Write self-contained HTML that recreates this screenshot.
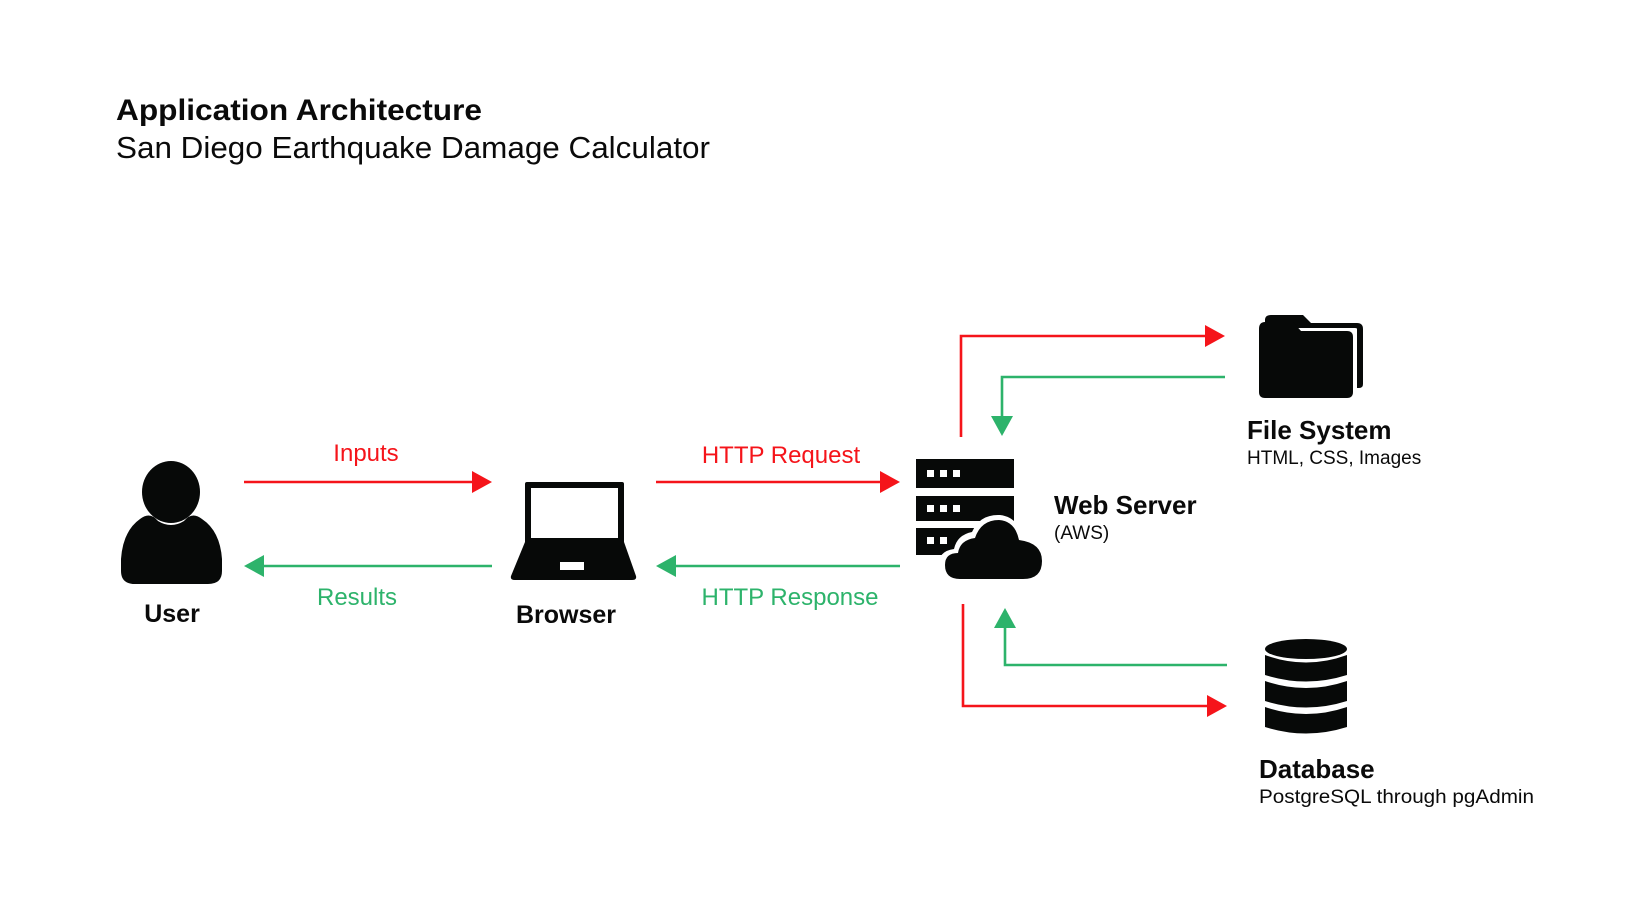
<!DOCTYPE html>
<html><head><meta charset="utf-8"><style>
html,body{margin:0;padding:0;background:#fff;width:1650px;height:900px;overflow:hidden}
svg{display:block}
text{font-family:"Liberation Sans",sans-serif}
</style></head><body>
<svg width="1650" height="900" viewBox="0 0 1650 900" xmlns="http://www.w3.org/2000/svg">
<rect width="1650" height="900" fill="#fff"/>
<text x="116" y="120" font-size="30" font-weight="bold" fill="#0a0a0a" textLength="366" lengthAdjust="spacingAndGlyphs">Application Architecture</text>
<text x="116" y="158" font-size="31" fill="#0a0a0a" textLength="594" lengthAdjust="spacingAndGlyphs">San Diego Earthquake Damage Calculator</text>

<!-- User -->
<ellipse cx="171" cy="492" rx="29" ry="31" fill="#070908"/>
<path d="M140 519 Q150 511 158 521 Q171 529 184 521 Q192 511 202 519 Q220 531 222 559 L222 571 Q222 584 208 584 L135 584 Q121 584 121 571 L121 559 Q123 531 140 519 Z" fill="#070908"/>
<text x="172" y="622" font-size="25" font-weight="bold" text-anchor="middle" fill="#0a0a0a">User</text>

<!-- Laptop -->
<rect x="525" y="482" width="99" height="62" rx="2" fill="#070908"/>
<rect x="531" y="488" width="87" height="50" fill="#fff"/>
<path d="M525 542 L624 542 L636 576 Q637 580 632 580 L515 580 Q510 580 511 576 Z" fill="#070908"/>
<rect x="560" y="562" width="24" height="8" fill="#fff"/>
<text x="566" y="623" font-size="25" font-weight="bold" text-anchor="middle" fill="#0a0a0a">Browser</text>

<g transform="translate(-5,-2)">
<!-- Server -->
<rect x="921" y="461" width="98" height="29" fill="#070908"/>
<rect x="921" y="498" width="98" height="25" fill="#070908"/>
<rect x="921" y="530" width="98" height="27" fill="#070908"/>
<g fill="#fff">
<rect x="932" y="472" width="7" height="7"/><rect x="945" y="472" width="7" height="7"/><rect x="958" y="472" width="7" height="7"/>
<rect x="932" y="507" width="7" height="7"/><rect x="945" y="507" width="7" height="7"/><rect x="958" y="507" width="7" height="7"/>
<rect x="932" y="539" width="7" height="7"/><rect x="945" y="539" width="7" height="7"/>
</g>
<path d="M960 586 Q943 586 943 569 Q943 553 959 551 Q962 537 977 534 Q985 516 1005 517 Q1022 519 1027 537 Q1052 541 1052 562 Q1052 586 1030 586 Z" fill="#fff"/>
<path d="M965 581 Q950 581 950 567 Q950 555 963 555 Q965 542 980 540 Q986 522 1004 522 Q1020 523 1024 542 Q1047 545 1047 563 Q1047 581 1028 581 Z" fill="#070908"/>
<text x="1059" y="516" font-size="26" font-weight="bold" fill="#0a0a0a">Web Server</text>
<text x="1059" y="541" font-size="19" fill="#0a0a0a">(AWS)</text>

<!-- Folder -->
<path d="M1270 322 Q1270 317 1276 317 L1308 317 L1316 325 L1362 325 Q1368 325 1368 331 L1368 386 Q1368 390 1364 390 L1362 390 L1362 331 Q1362 330 1360 330 L1270 330 Z" fill="#070908"/>
<path d="M1264 331 Q1264 324 1270 324 L1298 324 L1306 333 L1352 333 Q1358 333 1358 339 L1358 394 Q1358 400 1352 400 L1270 400 Q1264 400 1264 394 Z" fill="#070908"/>
<text x="1252" y="441" font-size="26" font-weight="bold" fill="#0a0a0a">File System</text>
<text x="1252" y="466" font-size="19" fill="#0a0a0a">HTML, CSS, Images</text>

<!-- Database -->
<g fill="#070908">
<ellipse cx="1311" cy="651" rx="41" ry="10"/>
<path d="M1270 657 Q1311 672 1352 657 L1352 677 Q1311 690 1270 677 Z"/>
<path d="M1270 683 Q1311 697 1352 683 L1352 703 Q1311 716 1270 703 Z"/>
<path d="M1270 709 Q1311 723 1352 709 L1352 729 Q1311 742 1270 729 Z"/>
</g>
<text x="1264" y="780" font-size="26" font-weight="bold" fill="#0a0a0a">Database</text>
<text x="1264" y="805" font-size="19" fill="#0a0a0a" textLength="275" lengthAdjust="spacingAndGlyphs">PostgreSQL through pgAdmin</text>

<g stroke-width="2.6" fill="none">
<polyline points="966,439 966,338 1212,338" stroke="#f5141a"/>
<polyline points="1230,379 1007,379 1007,420" stroke="#2db36b"/>
<polyline points="968,606 968,708 1214,708" stroke="#f5141a"/>
<polyline points="1232,667 1010,667 1010,628" stroke="#2db36b"/>
</g>
<polygon points="1210,327 1230,338 1210,349" fill="#f5141a"/>
<polygon points="996,418 1018,418 1007,438" fill="#2db36b"/>
<polygon points="1212,697 1232,708 1212,719" fill="#f5141a"/>
<polygon points="999,630 1021,630 1010,610" fill="#2db36b"/>
</g>

<!-- Arrows -->
<g stroke-width="2.6" fill="none">
<line x1="244" y1="482" x2="474" y2="482" stroke="#f5141a"/>
<line x1="262" y1="566" x2="492" y2="566" stroke="#2db36b"/>
<line x1="656" y1="482" x2="882" y2="482" stroke="#f5141a"/>
<line x1="674" y1="566" x2="900" y2="566" stroke="#2db36b"/>
</g>
<polygon points="472,471 492,482 472,493" fill="#f5141a"/>
<polygon points="264,555 244,566 264,577" fill="#2db36b"/>
<polygon points="880,471 900,482 880,493" fill="#f5141a"/>
<polygon points="676,555 656,566 676,577" fill="#2db36b"/>
<text x="366" y="461" font-size="24" fill="#f5141a" text-anchor="middle">Inputs</text>
<text x="357" y="605" font-size="24" fill="#2db36b" text-anchor="middle">Results</text>
<text x="781" y="463" font-size="24" fill="#f5141a" text-anchor="middle">HTTP Request</text>
<text x="790" y="605" font-size="24" fill="#2db36b" text-anchor="middle">HTTP Response</text>
</svg>
</body></html>
